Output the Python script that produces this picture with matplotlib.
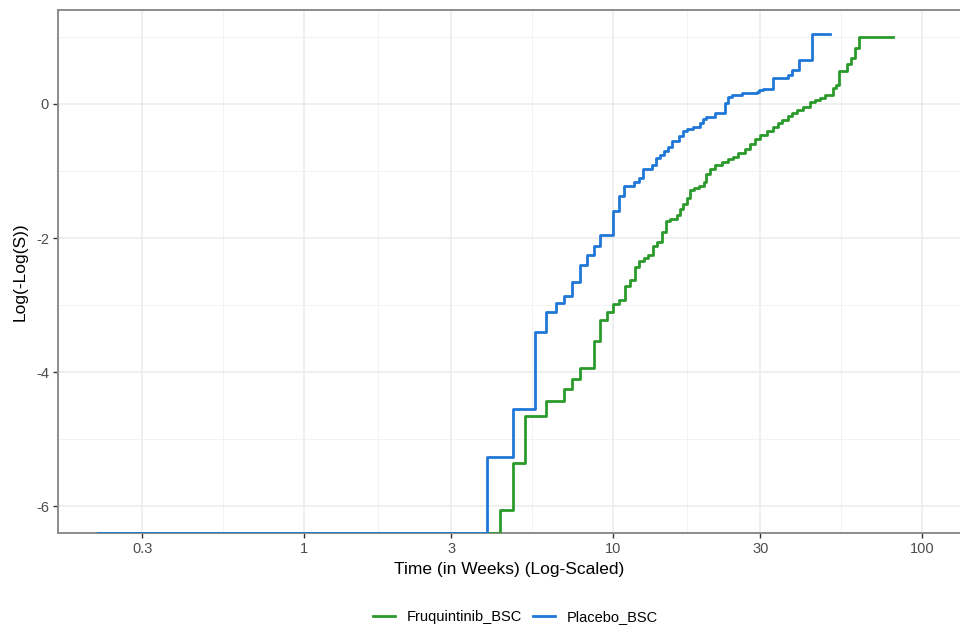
import numpy as np
import matplotlib
matplotlib.use("Agg")
import matplotlib.pyplot as plt
from matplotlib.ticker import FixedLocator, NullFormatter

plt.rcParams['font.family'] = ['Liberation Sans', 'DejaVu Sans']

# step times (weeks) and log(-log(S)) values
fru_time = [0.215, 4.31, 4.75, 5.20, 6.07, 6.94, 7.38, 7.82, 8.66, 9.10, 9.56,
            9.98, 10.43, 10.96, 11.35, 11.78, 12.17, 12.63, 13.01, 13.45, 13.91,
            14.38, 14.84, 15.30, 16.15, 16.48, 16.89, 17.32, 17.71, 18.22, 18.98,
            19.70, 20.0, 20.60, 21.38, 22.48, 23.56, 24.40, 25.38, 26.65, 27.76,
            28.71, 29.91, 31.40, 32.83, 34.07, 35.24, 36.71, 37.82, 39.32, 41.30,
            43.40, 45.06, 46.77, 48.55, 51.40, 52.69, 53.68, 57.05, 58.69, 60.47,
            62.30, 80.8]
fru_val = [-np.inf, -6.05, -5.36, -4.66, -4.43, -4.25, -4.10, -3.945, -3.53, -3.22, -3.10,
           -2.99, -2.93, -2.72, -2.63, -2.43, -2.35, -2.30, -2.25, -2.12, -2.06,
           -1.91, -1.75, -1.71, -1.65, -1.56, -1.49, -1.41, -1.29, -1.26, -1.22,
           -1.16, -1.05, -0.97, -0.905, -0.86, -0.825, -0.79, -0.73, -0.67, -0.60,
           -0.525, -0.47, -0.41, -0.34, -0.29, -0.235, -0.18, -0.14, -0.085, -0.04,
           0.025, 0.06, 0.095, 0.135, 0.235, 0.28, 0.485, 0.59, 0.68, 0.83,
           1.00, 1.00]

pla_time = [0.215, 3.90, 4.74, 5.61, 6.07, 6.52, 6.92, 7.38, 7.83, 8.22, 8.65,
            9.11, 9.98, 10.43, 10.89, 11.71, 12.16, 12.53, 13.37, 13.78, 14.23,
            14.59, 15.07, 15.58, 16.39, 16.81, 17.40, 18.11, 19.12, 19.60, 20.0,
            21.38, 23.04, 23.50, 24.33, 26.09, 29.17, 29.75, 30.64, 33.06, 36.71,
            37.82, 40.09, 43.95, 50.4]
pla_val = [-np.inf, -5.26, -4.545, -3.40, -3.10, -2.97, -2.86, -2.65, -2.41, -2.26, -2.12,
           -1.95, -1.60, -1.37, -1.23, -1.17, -1.10, -0.975, -0.915, -0.81, -0.755,
           -0.70, -0.64, -0.56, -0.48, -0.41, -0.38, -0.34, -0.29, -0.23, -0.19,
           -0.13, 0.01, 0.10, 0.14, 0.16, 0.18, 0.21, 0.23, 0.38, 0.43,
           0.50, 0.66, 1.04, 1.04]

groups = ["Fruquintinib_BSC", "Placebo_BSC"]
colors = ["#2A9A2A", "#1F78D8"]

x_major = [0.3, 1, 3, 10, 30, 100]
x_minor = [np.sqrt(0.3 * 1), np.sqrt(1 * 3), np.sqrt(3 * 10), np.sqrt(10 * 30),
           np.sqrt(30 * 100)]
y_major = [-6, -4, -2, 0]
y_minor = [-5, -3, -1, 1]

ymin, ymax = -6.40, 1.40

fig = plt.figure(figsize=(9.6, 6.3), dpi=100)
ax = fig.add_axes([0.0604, 0.154, 0.9396, 0.830])

for t, v, c, g in zip([fru_time, pla_time], [fru_val, pla_val], colors, groups):
    v = np.maximum(np.array(v), ymin)  # -Inf drawn at panel edge like ggplot
    ax.step(t, v, where="post", color=c, lw=2, label=g, zorder=3)

ax.set_xscale("log")
ax.set_xlim(0.16, 132.7)
ax.set_ylim(ymin, ymax)
ax.xaxis.set_major_locator(FixedLocator(x_major))
ax.xaxis.set_minor_locator(FixedLocator(x_minor))
ax.xaxis.set_minor_formatter(NullFormatter())
ax.set_xticklabels(["0.3", "1", "3", "10", "30", "100"])
ax.yaxis.set_major_locator(FixedLocator(y_major))
ax.yaxis.set_minor_locator(FixedLocator(y_minor))
ax.set_yticklabels(["-6", "-4", "-2", "0"])

ax.grid(True, which="major", color="#ebebeb", lw=1.1)
ax.grid(True, which="minor", color="#f2f2f2", lw=0.7)
ax.set_axisbelow(True)

ax.tick_params(which="major", length=3.5, width=1, color="#333333",
               labelsize=10.5, labelcolor="#4d4d4d", pad=3)
ax.tick_params(which="minor", length=0)
for s in ["left", "bottom", "top"]:
    ax.spines[s].set_color("#8c8c8c")
    ax.spines[s].set_linewidth(1.4)
ax.spines["right"].set_visible(False)

ax.set_xlabel("Time (in Weeks) (Log-Scaled)", fontsize=12.5, labelpad=4)
ax.set_ylabel("Log(-Log(S))", fontsize=12.5, labelpad=6)

fig.legend(loc="center", bbox_to_anchor=(0.537, 0.021), ncol=2, frameon=False,
           fontsize=10.5, handlelength=1.5, columnspacing=0.8, handletextpad=0.8)

fig.savefig("out.png", dpi=100)
